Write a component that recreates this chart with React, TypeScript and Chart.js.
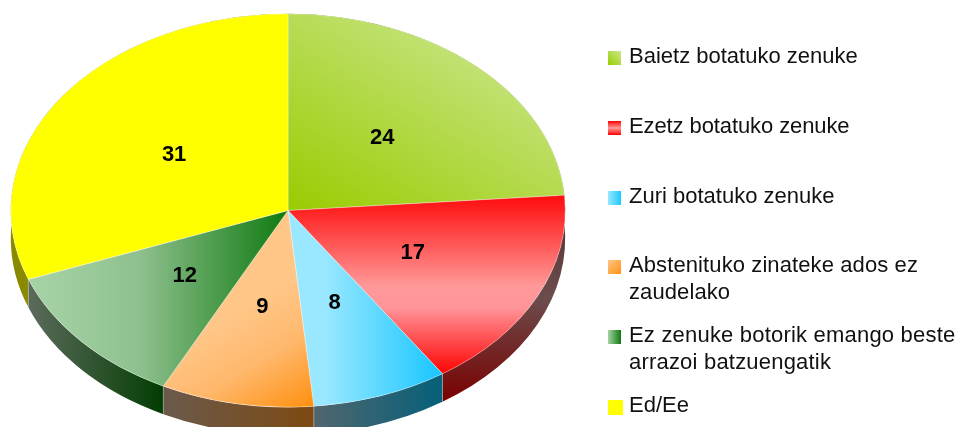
import React, { useEffect, useRef } from "react";
import { Chart, registerables } from "chart.js";

Chart.register(...registerables);

const categories = [
  "Baietz botatuko zenuke",
  "Ezetz botatuko zenuke",
  "Zuri botatuko zenuke",
  "Abstenituko zinateke ados ez zaudelako",
  "Ez zenuke botorik emango beste arrazoi batzuengatik",
  "Ed/Ee",
];
const values = [24, 17, 8, 9, 12, 31];

const legendRows = [
  { top: 43, swatch: 51, lines: ["Baietz botatuko zenuke"], css: "linear-gradient(45deg,#99cc00,#cce98f)", spacing: 0 },
  { top: 113, swatch: 121, lines: ["Ezetz botatuko zenuke"], css: "linear-gradient(180deg,#ff0000,#ff9999 50%,#ff0000)", spacing: -0.1 },
  { top: 183, swatch: 191, lines: ["Zuri botatuko zenuke"], css: "linear-gradient(90deg,#99e8ff,#1fc8ff)", spacing: 0 },
  { top: 252, swatch: 260, lines: ["Abstenituko zinateke ados ez", "zaudelako"], css: "linear-gradient(135deg,#ffc688,#ff9010)", spacing: 0.1 },
  { top: 322, swatch: 330, lines: ["Ez zenuke botorik emango beste", "arrazoi batzuengatik"], css: "linear-gradient(90deg,#a5d2a5,#0f7a0f)", spacing: 0.2 },
  { top: 392, swatch: 400, lines: ["Ed/Ee"], css: "#ffff00", big: true, spacing: 0 },
];

const CX = 288;
const SX = 277 / 196.5;
const DEPTH = 28;

type Grad = { from: [number, number]; to: [number, number]; stops: [number, string][] };

const topFills: Grad[] = [
  { from: [288, 210], to: [500, 30], stops: [[0, "#99cc00"], [1, "#c9e588"]] },
  { from: [0, 198], to: [0, 375], stops: [[0, "#ff0f0f"], [0.5, "#ff9999"], [0.62, "#ff9498"], [1, "#ff0000"]] },
  { from: [325, 0], to: [435, 0], stops: [[0, "#99e8ff"], [1, "#1fc8ff"]] },
  { from: [215, 325], to: [312, 407], stops: [[0, "#ffc688"], [0.45, "#ffb86c"], [1, "#ff9010"]] },
  { from: [40, 0], to: [288, 0], stops: [[0, "#a5d2a5"], [0.4, "#8fc08f"], [1, "#0f7a0f"]] },
  { from: [0, 0], to: [0, 427], stops: [[0, "#ffff00"], [1, "#ffff00"]] },
];

const wallFills: Grad[] = [
  { from: [288, 0], to: [565, 0], stops: [[0, "#4f6605"], [1, "#6c7a3c"]] },
  { from: [0, 230], to: [0, 402], stops: [[0, "#5c3a3a"], [0.4, "#6c4c4c"], [1, "#7a0000"]] },
  { from: [312, 0], to: [443, 0], stops: [[0, "#52666e"], [1, "#05607a"]] },
  { from: [162, 0], to: [312, 0], stops: [[0, "#6a5a4c"], [1, "#7d4a12"]] },
  { from: [28, 0], to: [162, 0], stops: [[0, "#5c6b5c"], [1, "#033d03"]] },
  { from: [0, 0], to: [0, 427], stops: [[0, "#8a8a00"], [1, "#8a8a00"]] },
];

// Gradients are given in page pixels; the drawing context is stretched in x around CX.
function makeGradient(ctx: CanvasRenderingContext2D, g: Grad) {
  const ux = (x: number) => CX + (x - CX) / SX;
  const lg = ctx.createLinearGradient(ux(g.from[0]), g.from[1], ux(g.to[0]), g.to[1]);
  g.stops.forEach(([o, c]) => lg.addColorStop(o, c));
  return lg;
}

const tiltPlugin = {
  id: "tilt",
  beforeDatasetsDraw(chart: any) {
    const ctx = chart.ctx as CanvasRenderingContext2D;
    const arcs = chart.getDatasetMeta(0).data;
    ctx.save();
    ctx.translate(CX, 0);
    ctx.scale(SX, 1);
    ctx.translate(-CX, 0);
    arcs.forEach((a: any, i: number) => {
      const p = a.getProps(["x", "y", "startAngle", "endAngle", "outerRadius"], true);
      ctx.beginPath();
      ctx.arc(p.x, p.y, p.outerRadius, p.startAngle, p.endAngle);
      ctx.lineTo(p.x + Math.cos(p.endAngle) * p.outerRadius, p.y + Math.sin(p.endAngle) * p.outerRadius + DEPTH);
      ctx.arc(p.x, p.y + DEPTH, p.outerRadius, p.endAngle, p.startAngle, true);
      ctx.closePath();
      ctx.fillStyle = makeGradient(ctx, wallFills[i]);
      ctx.fill();
    });
    arcs.forEach((a: any) => {
      const p = a.getProps(["x", "y", "endAngle", "outerRadius"], true);
      if (Math.sin(p.endAngle) <= 0) return;
      const ex = p.x + Math.cos(p.endAngle) * p.outerRadius;
      const ey = p.y + Math.sin(p.endAngle) * p.outerRadius;
      ctx.beginPath();
      ctx.moveTo(ex, ey);
      ctx.lineTo(ex, ey + DEPTH);
      ctx.lineWidth = 0.7;
      ctx.strokeStyle = "rgba(200,200,200,0.55)";
      ctx.stroke();
    });
  },
  afterDatasetsDraw(chart: any) {
    const ctx = chart.ctx as CanvasRenderingContext2D;
    ctx.restore();
    const arcs = chart.getDatasetMeta(0).data;
    ctx.save();
    ctx.fillStyle = "#000";
    ctx.font = "bold 22px 'Liberation Sans'";
    ctx.textAlign = "center";
    ctx.textBaseline = "middle";
    arcs.forEach((a: any, i: number) => {
      const c = a.getCenterPoint(true);
      ctx.fillText(String(values[i]), CX + (c.x - CX) * SX, c.y);
    });
    ctx.restore();
  },
};

export default function App() {
  const ref = useRef<HTMLCanvasElement>(null);
  useEffect(() => {
    const chart = new Chart(ref.current!, {
      type: "pie",
      data: {
        labels: categories,
        datasets: [
          {
            data: values,
            clip: false,
            backgroundColor: (c: any) => makeGradient(c.chart.ctx, topFills[c.dataIndex]),
            borderColor: "rgba(255,255,255,0.4)",
            borderWidth: 0.7,
          } as any,
        ],
      },
      options: {
        responsive: false,
        animation: false,
        devicePixelRatio: 1,
        events: [],
        layout: { padding: { left: 91, right: 474, top: 13.5, bottom: 19.5 } },
        plugins: { legend: { display: false }, tooltip: { enabled: false } },
      },
      plugins: [tiltPlugin],
    });
    return () => chart.destroy();
  }, []);
  return (
    <div style={{ position: "absolute", left: 0, top: 0, width: 959, height: 427, overflow: "hidden", background: "#fff" }}>
      <canvas ref={ref} width={959} height={427} style={{ position: "absolute", left: 0, top: 0 }} />
      {legendRows.map((r) => (
        <React.Fragment key={r.lines[0]}>
          <div
            style={{
              position: "absolute",
              left: 608,
              top: r.swatch,
              width: r.big ? 15 : 13,
              height: r.big ? 15 : 14,
              background: r.css,
            }}
          />
          <div
            style={{
              position: "absolute",
              left: 629,
              top: r.top,
              font: "22px/26.5px 'Liberation Sans'",
              letterSpacing: r.spacing,
              color: "#111",
              whiteSpace: "nowrap",
            }}
          >
            {r.lines.map((l) => (
              <div key={l}>{l}</div>
            ))}
          </div>
        </React.Fragment>
      ))}
    </div>
  );
}
